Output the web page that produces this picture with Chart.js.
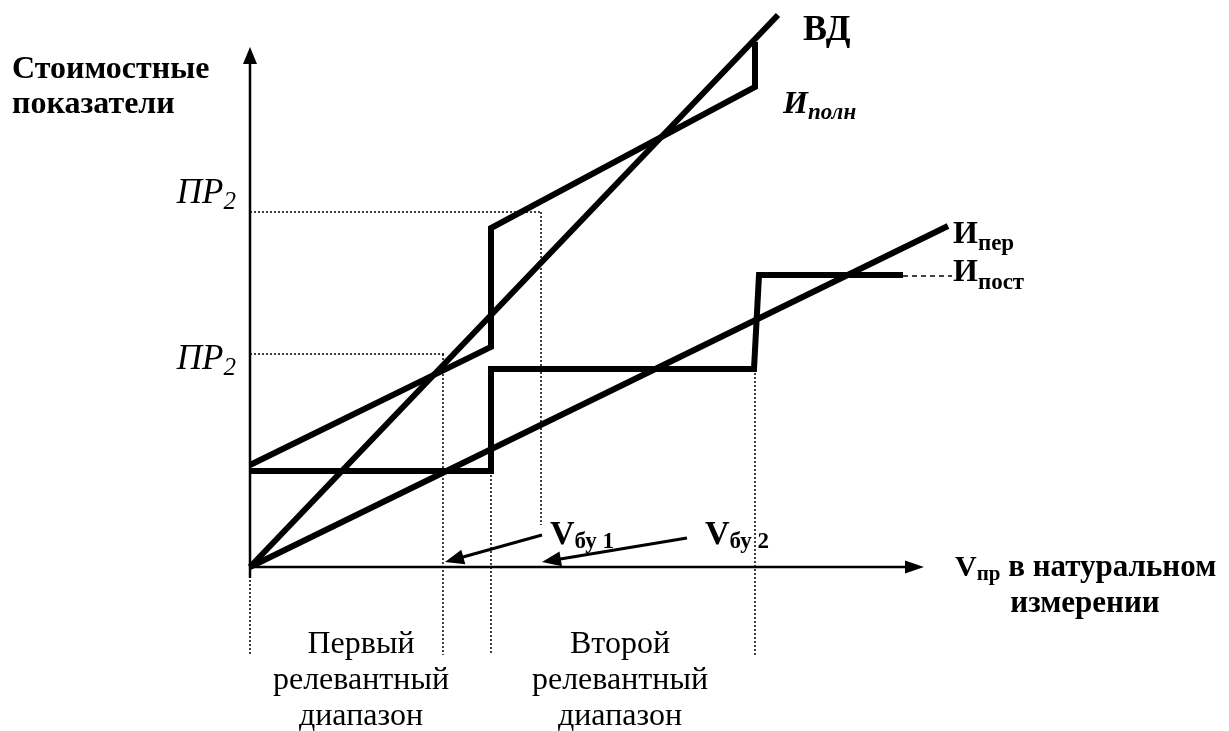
<!DOCTYPE html>
<html><head><meta charset="utf-8">
<script src="https://cdn.jsdelivr.net/npm/chart.js@4/dist/chart.umd.min.js"></script>
<style>html,body{margin:0;padding:0;background:#fff;overflow:hidden}canvas{display:block}</style>
</head><body>
<canvas id="c" width="1229" height="731"></canvas>
<script>
// ---- data (x: volume, y: cost indicators; arbitrary units) ----
const revenueX = [0, 52.8];               // ВД
const revenueY = [0, 55.2];
const totalX = [0, 24.1, 24.1, 50.5, 50.5]; // И полн
const totalY = [10.2, 22.0, 33.9, 48.0, 52.5];
const variableX = [0, 69.8];              // И пер
const variableY = [0, 34.1];
const fixedX = [0, 24.1, 24.1, 50.4, 50.9, 65.3]; // И пост
const fixedY = [9.6, 9.6, 19.8, 19.8, 29.2, 29.2];
const fixedLeaderX = [65.3, 70.2];
const fixedLeaderY = [29.1, 29.1];
// reference (dotted) lines: [x1, y1, x2, y2]
const guideX1 = [0, 19.3, 24.1, 29.1, 50.5, 0, 0];
const guideY1 = [-1.3, 21.3, 9.6, 35.5, 19.8, 35.5, 21.3];
const guideX2 = [0, 19.3, 24.1, 29.1, 50.5, 29.1, 19.5];
const guideY2 = [-8.8, -8.8, -8.8, 4.2, -8.8, 35.5, 21.3];
// pointer arrows to break-even volumes
const arrowFromX = [29.2, 43.7];
const arrowFromY = [3.2, 2.9];
const arrowToX = [19.5, 29.2];
const arrowToY = [0.5, 0.5];

const zip = (xs, ys) => xs.map((x, i) => ({x, y: ys[i]}));
const F = '"Liberation Serif", "Times New Roman", serif';

const thick = (data) => ({data, showLine: true, borderColor: '#000', borderWidth: 6,
  pointRadius: 0, tension: 0, clip: false, borderJoinStyle: 'miter', borderCapStyle: 'butt', fill: false});

const datasets = [
  thick(zip(revenueX, revenueY)),
  thick(zip(totalX, totalY)),
  thick(zip(variableX, variableY)),
  thick(zip(fixedX, fixedY)),
  {data: zip(fixedLeaderX, fixedLeaderY), showLine: true, borderColor: '#000', borderWidth: 1.5,
   borderDash: [5, 4], pointRadius: 0, clip: false},
];
guideX1.forEach((_, i) => datasets.push({
  data: [{x: guideX1[i], y: guideY1[i]}, {x: guideX2[i], y: guideY2[i]}],
  showLine: true, borderColor: '#000', borderWidth: 1.5, borderDash: [2, 2],
  pointRadius: 0, clip: false, borderCapStyle: 'butt'
}));

function head(ctx, x1, y1, x2, y2, len, w) {
  const a = Math.atan2(y2 - y1, x2 - x1);
  ctx.beginPath();
  ctx.moveTo(x2, y2);
  ctx.lineTo(x2 - len * Math.cos(a) + w / 2 * Math.sin(a), y2 - len * Math.sin(a) - w / 2 * Math.cos(a));
  ctx.lineTo(x2 - len * Math.cos(a) - w / 2 * Math.sin(a), y2 - len * Math.sin(a) + w / 2 * Math.cos(a));
  ctx.closePath();
  ctx.fill();
}
function t(ctx, s, x, y, font, align) {
  ctx.font = font; ctx.textAlign = align || 'left'; ctx.textBaseline = 'alphabetic';
  ctx.fillText(s, x, y);
  return ctx.measureText(s).width;
}
function sub(ctx, main, s, x, y, mf, sf, dy) {
  const w = t(ctx, main, x, y, mf);
  return w + t(ctx, s, x + w, y + dy, sf);
}

const decor = {
  id: 'decor',
  afterDatasetsDraw(chart) {
    const ctx = chart.ctx, xs = chart.scales.x, ys = chart.scales.y;
    const X = v => xs.getPixelForValue(v), Y = v => ys.getPixelForValue(v);
    ctx.save();
    ctx.fillStyle = '#000'; ctx.strokeStyle = '#000';
    // axes
    ctx.lineWidth = 2.5;
    ctx.beginPath();
    ctx.moveTo(X(0), Y(-1.1)); ctx.lineTo(X(0), 60);
    ctx.moveTo(X(0) - 1, Y(0)); ctx.lineTo(906, Y(0));
    ctx.stroke();
    head(ctx, X(0), 100, X(0), 47, 17, 14);
    head(ctx, 850, Y(0), 924, Y(0), 19, 13);
    // pointer arrows
    ctx.lineWidth = 3;
    arrowFromX.forEach((_, i) => {
      const x1 = X(arrowFromX[i]), y1 = Y(arrowFromY[i]), x2 = X(arrowToX[i]), y2 = Y(arrowToY[i]);
      const a = Math.atan2(y2 - y1, x2 - x1);
      ctx.beginPath(); ctx.moveTo(x1, y1); ctx.lineTo(x2 - 14 * Math.cos(a), y2 - 14 * Math.sin(a)); ctx.stroke();
      head(ctx, x1, y1, x2, y2, 19, 15);
    });
    // texts
    const B = 'bold 32px ' + F, R = '32px ' + F;
    t(ctx, 'Стоимостные', 12, 78, B);
    t(ctx, 'показатели', 12, 113, B);
    // ПР2 labels (right aligned to 236)
    [203, 369].forEach(by => {
      ctx.font = 'italic 35px ' + F; const w1 = ctx.measureText('ПР').width;
      ctx.font = 'italic 25px ' + F; const w2 = ctx.measureText('2').width;
      const x0 = 236 - w1 - w2;
      sub(ctx, 'ПР', '2', x0, by, 'italic 35px ' + F, 'italic 25px ' + F, 6);
    });
    t(ctx, 'ВД', 803, 40, 'bold 36px ' + F);
    sub(ctx, 'И', 'полн', 783, 113, 'bold italic 32px ' + F, 'bold italic 23px ' + F, 6);
    sub(ctx, 'И', 'пер', 953, 243, 'bold 32px ' + F, 'bold 23px ' + F, 7);
    sub(ctx, 'И', 'пост', 953, 281, 'bold 32px ' + F, 'bold 23px ' + F, 8);
    sub(ctx, 'V', 'бу 1', 550, 544, 'bold 34px ' + F, 'bold 23px ' + F, 4);
    sub(ctx, 'V', 'бу 2', 705, 544, 'bold 34px ' + F, 'bold 23px ' + F, 4);
    const w = sub(ctx, 'V', 'пр', 955, 576, 'bold 30px ' + F, 'bold 21px ' + F, 4);
    t(ctx, ' в натуральном', 955 + w, 576, 'bold 31px ' + F);
    t(ctx, 'измерении', 1085, 612, 'bold 31px ' + F, 'center');
    t(ctx, 'Первый', 361, 653, R, 'center');
    t(ctx, 'релевантный', 361, 689, R, 'center');
    t(ctx, 'диапазон', 361, 725, R, 'center');
    t(ctx, 'Второй', 620, 653, R, 'center');
    t(ctx, 'релевантный', 620, 689, R, 'center');
    t(ctx, 'диапазон', 620, 725, R, 'center');
    ctx.restore();
  }
};

new Chart(document.getElementById('c'), {
  type: 'scatter',
  data: {datasets},
  options: {
    responsive: false, animation: false, events: [],
    layout: {padding: {left: 250, right: 279, top: 10, bottom: 164}},
    plugins: {legend: {display: false}, tooltip: {enabled: false}, title: {display: false}},
    scales: {
      x: {type: 'linear', min: 0, max: 70, display: false},
      y: {type: 'linear', min: 0, max: 55.7, display: false}
    }
  },
  plugins: [decor]
});
</script></body></html>
